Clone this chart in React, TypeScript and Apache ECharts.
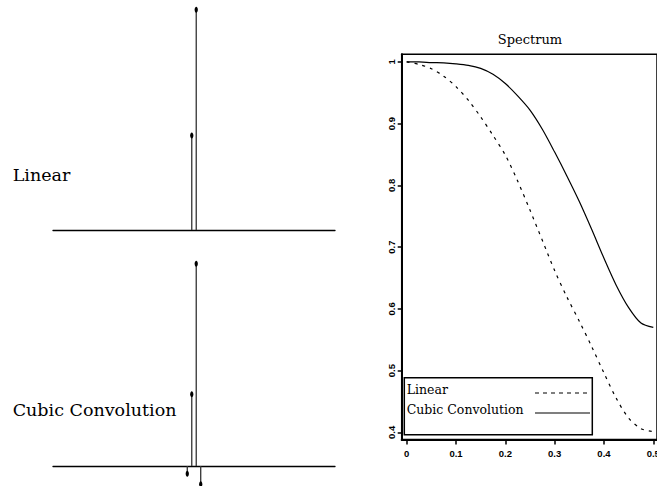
import React, { useEffect, useRef } from "react";
import * as echarts from "echarts";

// Left panels: interpolation kernel weights (sample index, weight)
const linearPos = [31, 32];
const linearWeights = [0.3, 0.7];
const cubicPos = [30, 31, 32, 33];
const cubicWeights = [-0.0315, 0.2895, 0.8155, -0.0735];

// Right panel: spectrum curves
const freq = [0, 0.025, 0.05, 0.075, 0.1, 0.125, 0.15, 0.175, 0.2, 0.225, 0.25, 0.275, 0.3, 0.325, 0.35, 0.375, 0.4, 0.425, 0.45, 0.475, 0.5];
const specLinear = [1.0, 0.996, 0.989, 0.977, 0.960, 0.938, 0.911, 0.881, 0.849, 0.807, 0.760, 0.711, 0.662, 0.619, 0.580, 0.539, 0.496, 0.455, 0.423, 0.406, 0.401];
const specCubic = [1.0, 1.0, 0.999, 0.9985, 0.997, 0.9945, 0.9895, 0.980, 0.965, 0.945, 0.922, 0.891, 0.854, 0.815, 0.774, 0.729, 0.682, 0.638, 0.602, 0.577, 0.570];

const xTicks = [0, 0.1, 0.2, 0.3, 0.4, 0.5];
const yTicks = [0.4, 0.5, 0.6, 0.7, 0.8, 0.9, 1];

const seriesNames = ["Linear", "Cubic Convolution"];
const title = "Spectrum";

const stemRender = (params: any, api: any) => {
  const x = api.value(0);
  const y = api.value(1);
  const base = api.coord([x, 0]);
  const top = api.coord([x, y]);
  return {
    type: "group",
    children: [
      { type: "line", shape: { x1: base[0], y1: base[1], x2: top[0], y2: top[1] }, style: { stroke: "#333", lineWidth: 1.3 } },
      { type: "ellipse", shape: { cx: top[0], cy: top[1], rx: 1.6, ry: 3 }, style: { fill: "#000" } },
    ],
  };
};

const fmt = (v: number) => String(Math.round(v * 10) / 10);

export default function App() {
  const ref = useRef<HTMLDivElement>(null);
  useEffect(() => {
    if (!ref.current) return;
    const chart = echarts.init(ref.current, undefined, { renderer: "svg" });
    const labelFont = { fontFamily: "Liberation Sans", fontWeight: "bold" as const, fontSize: 9.5, color: "#000" };
    const leftX = (gridIndex: number) => ({
      type: "value", gridIndex, min: 0, max: 63,
      axisLine: { show: true, onZero: true, lineStyle: { color: "#000", width: 1.3 } },
      axisTick: { show: false }, axisLabel: { show: false }, splitLine: { show: false },
    });
    const option: any = {
      animation: false,
      backgroundColor: "#fff",
      grid: [
        { left: 53, top: 9.7, width: 282, height: 220.3, outerBoundsMode: "none" },
        { left: 53, top: 263.7, width: 282, height: 220.5, outerBoundsMode: "none" },
        { left: 401.7, top: 54.3, width: 255.3, height: 385.3, show: true, borderColor: "#000", borderWidth: 1.5, outerBoundsMode: "none", containLabel: false },
      ],
      xAxis: [
        leftX(0),
        leftX(1),
        {
          type: "value", gridIndex: 2, min: -0.0101, max: 0.5075,
          axisLine: { show: true, onZero: false, lineStyle: { color: "#000", width: 2 } },
          axisTick: { show: true, inside: false, length: 5, customValues: xTicks, lineStyle: { color: "#000", width: 1.5 } },
          axisLabel: { show: true, customValues: xTicks, margin: 9, formatter: fmt, hideOverlap: false, ...labelFont },
          splitLine: { show: false },
        },
      ],
      yAxis: [
        { type: "value", gridIndex: 0, min: 0, max: 0.7, show: false },
        { type: "value", gridIndex: 1, min: -0.0735, max: 0.8155, show: false },
        {
          type: "value", gridIndex: 2, min: 0.3882, max: 1.0124,
          axisLine: { show: true, onZero: false, lineStyle: { color: "#000", width: 2 } },
          axisTick: { show: true, inside: false, length: 4, customValues: yTicks, lineStyle: { color: "#000", width: 1.5 } },
          axisLabel: { show: true, customValues: yTicks, rotate: 90, margin: 5, formatter: fmt, ...labelFont },
          splitLine: { show: false },
        },
      ],
      series: [
        { type: "custom", name: "linearKernel", xAxisIndex: 0, yAxisIndex: 0, renderItem: stemRender, data: linearPos.map((p, i) => [p, linearWeights[i]]) },
        { type: "custom", name: "cubicKernel", xAxisIndex: 1, yAxisIndex: 1, renderItem: stemRender, data: cubicPos.map((p, i) => [p, cubicWeights[i]]) },
        {
          type: "line", name: seriesNames[0], xAxisIndex: 2, yAxisIndex: 2, showSymbol: false, smooth: 0.3,
          lineStyle: { color: "#000", width: 1.2, type: [3, 5] },
          data: freq.map((f, i) => [f, specLinear[i]]),
        },
        {
          type: "line", name: seriesNames[1], xAxisIndex: 2, yAxisIndex: 2, showSymbol: false, smooth: 0.3,
          lineStyle: { color: "#000", width: 1.2 },
          data: freq.map((f, i) => [f, specCubic[i]]),
        },
      ],
      graphic: [
        { type: "text", x: 12.7, y: 175, style: { text: "Linear", font: "17.5px 'DejaVu Serif'", fill: "#000", verticalAlign: "middle" } },
        { type: "text", x: 12.7, y: 410, style: { text: "Cubic Convolution", font: "17.5px 'DejaVu Serif'", fill: "#000", verticalAlign: "middle" } },
        { type: "text", x: 530, y: 39, style: { text: title, font: "13px 'DejaVu Serif'", fill: "#000", align: "center", verticalAlign: "middle" } },
        { type: "rect", z: 10, shape: { x: 404.3, y: 377.7, width: 188, height: 57 }, style: { fill: "#fff", stroke: "#000", lineWidth: 1.5 } },
        { type: "text", z: 11, x: 406.7, y: 389.3, style: { text: seriesNames[0], font: "12.5px 'DejaVu Serif'", fill: "#000", verticalAlign: "middle" } },
        { type: "text", z: 11, x: 406.7, y: 409.3, style: { text: seriesNames[1], font: "12.5px 'DejaVu Serif'", fill: "#000", verticalAlign: "middle" } },
        { type: "line", z: 11, shape: { x1: 535, y1: 393, x2: 590, y2: 393 }, style: { stroke: "#000", lineWidth: 1.2, lineDash: [4, 4] } },
        { type: "line", z: 11, shape: { x1: 535, y1: 413, x2: 590, y2: 413 }, style: { stroke: "#000", lineWidth: 1.2 } },
      ],
    };
    chart.setOption(option);
    return () => chart.dispose();
  }, []);
  return <div ref={ref} style={{ position: "fixed", left: 0, top: 0, width: 657, height: 486, background: "#fff" }} />;
}
